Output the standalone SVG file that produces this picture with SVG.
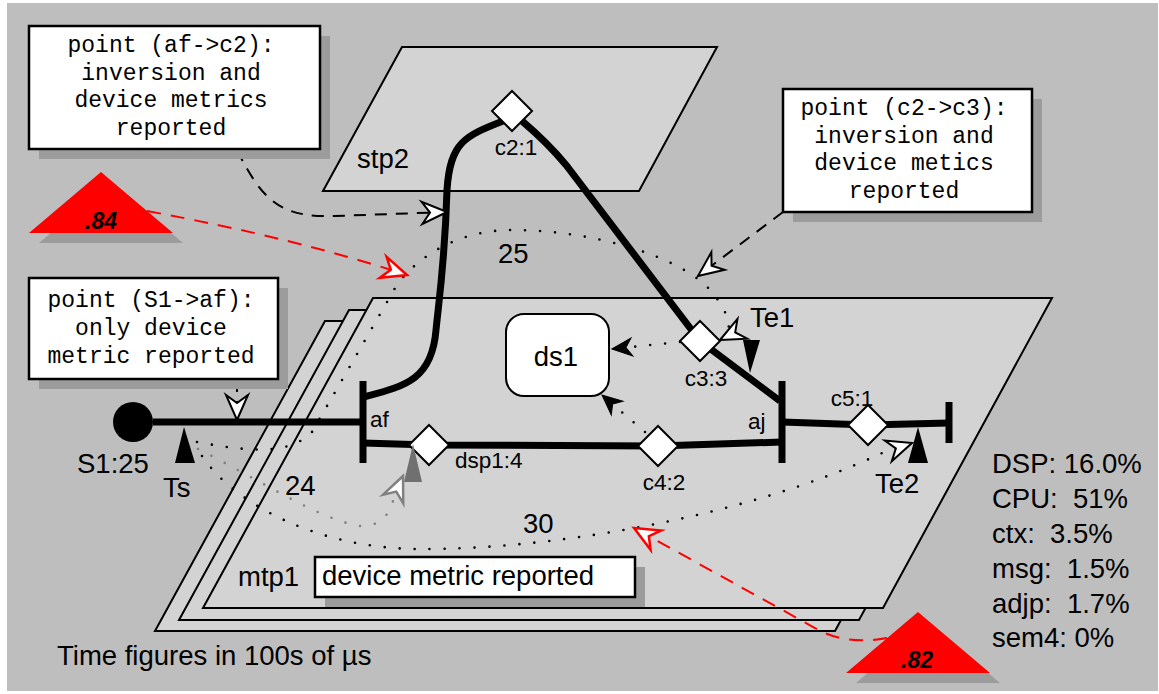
<svg xmlns="http://www.w3.org/2000/svg" width="1159" height="694" viewBox="0 0 1159 694">
<style>
.plane{fill:#d3d3d3;stroke:#000;stroke-width:2}
.box{fill:#fff;stroke:#000;stroke-width:2.5}
.shadow{fill:#9c9c9c}
.mono{font-family:"Liberation Mono","Courier New",monospace;font-size:23px;fill:#000;text-anchor:middle}
.lbl{font-family:"Liberation Sans",Arial,sans-serif;font-size:27.5px;fill:#000}
.sm{font-family:"Liberation Sans",Arial,sans-serif;font-size:22.5px;fill:#000}
.num{font-family:"Liberation Sans",Arial,sans-serif;font-size:23px;font-weight:bold;font-style:italic;fill:#000;text-anchor:middle}
.thick{fill:none;stroke:#000;stroke-width:7}
.bar{stroke:#000;stroke-width:7}
.dia{fill:#fff;stroke:#000;stroke-width:2}
.dot{fill:none;stroke:#000;stroke-width:2.6;stroke-linecap:round;stroke-dasharray:0 15}
.gdot{fill:none;stroke:#808080;stroke-width:2.6;stroke-linecap:round;stroke-dasharray:0 15}
.dash{fill:none;stroke:#000;stroke-width:2;stroke-dasharray:12 9}
.rdash{fill:none;stroke:#f00;stroke-width:2;stroke-dasharray:14 10}
</style>
<defs>
<marker id="aw" markerUnits="userSpaceOnUse" markerWidth="30" markerHeight="30" refX="0" refY="0" orient="auto" overflow="visible"><path d="M0,0 L-25,-11 L-17,0 L-25,11 Z" fill="#fff" stroke="#000" stroke-width="2"/></marker>
<marker id="ar" markerUnits="userSpaceOnUse" markerWidth="30" markerHeight="30" refX="0" refY="0" orient="auto" overflow="visible"><path d="M0,0 L-25,-11 L-17,0 L-25,11 Z" fill="#fff" stroke="#f00" stroke-width="2.5"/></marker>
<marker id="ag" markerUnits="userSpaceOnUse" markerWidth="30" markerHeight="30" refX="0" refY="0" orient="auto" overflow="visible"><path d="M0,0 L-25,-11 L-17,0 L-25,11 Z" fill="#fff" stroke="#808080" stroke-width="2.5"/></marker>
<marker id="ab" markerUnits="userSpaceOnUse" markerWidth="30" markerHeight="30" refX="0" refY="0" orient="auto" overflow="visible"><path d="M0,0 L-20,-9 L-14,0 L-20,9 Z" fill="#000" stroke="#000" stroke-width="1"/></marker>
</defs>
<rect x="7" y="3" width="1151" height="688" fill="#bebebe"/>

<g id="mtp1">
<polygon class="plane" points="325,321 1004,321 835,631 155,631"/>
<polygon class="plane" points="349,310 1028,310 859,620 179,620"/>
<polygon class="plane" points="373,298 1052,298 883,608 203,608"/>
<text class="lbl" x="238" y="586">mtp1</text>
</g>
<g id="stp2">
<polygon class="plane" points="402,47 717,47 639,191 323,191"/>
<text class="lbl" x="357" y="168">stp2</text>
</g>

<g id="connectors">
<path class="thick" d="M503,121 C465,136 450,142 447,190 C445,260 439,300 436,330 C432,380 405,386 364,397"/>
<path class="thick" d="M522,121 C542,138 552,148 566,165 L700,341 L780,401"/>
<path class="thick" d="M153,422 L363,422"/>
<path class="thick" d="M363,443 L429,445 L658,446 L782,442"/>
<path class="thick" d="M782,422 L868,425 L949,423"/>
<line class="bar" x1="363" y1="381" x2="363" y2="463"/>
<line class="bar" x1="782" y1="381" x2="782" y2="463"/>
<line class="bar" x1="949" y1="402" x2="949" y2="443"/>

<path class="dot" d="M197,442 C250,452 290,455 312,432 L398,283 C425,250 465,230 512,230 C590,230 680,255 712,292 C728,312 736,332 720,340" marker-end="url(#aw)"/>
<path class="dot" d="M202,456 C235,505 320,549 420,549 C540,550 740,520 882,453 L912,443" marker-end="url(#aw)"/>
<path class="gdot" d="M198,449 C260,480 320,520 360,526 C380,527 390,515 394,497 L403,476" marker-end="url(#ag)"/>
<path class="dot" d="M680,342 L612,349" marker-end="url(#ab)"/>
<path class="dot" d="M645,432 L602,395" marker-end="url(#ab)"/>

<path class="dash" d="M237,150 C262,200 280,218 335,216 L447,212" marker-end="url(#aw)"/>
<path class="dash" d="M783,212 L698,276" marker-end="url(#aw)"/>
<path class="dash" d="M237,380 L237,420" marker-end="url(#aw)"/>
<path class="rdash" d="M147,211 C250,230 330,250 407,275" marker-end="url(#ar)"/>
<path class="rdash" d="M887,638 C860,643 835,640 815,628 L634,528" marker-end="url(#ar)"/>
</g>

<g id="S1">
<circle cx="133" cy="422" r="20" fill="#000"/>
<text class="lbl" x="77" y="473">S1:25</text>
</g>
<g id="Ts">
<polygon points="184,427 195,463 175,463" fill="#000"/>
<text class="lbl" x="163" y="497">Ts</text>
</g>
<g id="af"><text class="sm" x="370" y="427">af</text></g>
<g id="aj"><text class="sm" x="748" y="429">aj</text></g>
<g id="c2">
<polygon class="dia" points="512,91 532,111 512,131 492,111"/>
<text class="sm" x="516" y="155" text-anchor="middle">c2:1</text>
</g>
<g id="c3">
<polygon class="dia" points="700,321 720,341 700,361 680,341"/>
<text class="sm" x="706" y="386" text-anchor="middle">c3:3</text>
</g>
<g id="dsp1">
<polygon class="dia" points="429,425 449,445 429,465 409,445"/>
<text class="sm" x="455" y="468">dsp1:4</text>
</g>
<g id="c4">
<polygon class="dia" points="658,426 678,446 658,466 638,446"/>
<text class="sm" x="664" y="490" text-anchor="middle">c4:2</text>
</g>
<g id="c5">
<polygon class="dia" points="868,405 888,425 868,445 848,425"/>
<text class="sm" x="852" y="406" text-anchor="middle">c5:1</text>
</g>
<g id="ds1">
<rect x="506" y="314" width="103" height="82" rx="18" fill="#fff" stroke="#000" stroke-width="2"/>
<text class="lbl" x="556" y="366" text-anchor="middle">ds1</text>
</g>
<g id="dsptri"><polygon points="413,444 422,482 404,482" fill="#707070"/></g>
<g id="Te1">
<polygon points="743,340 760,340 750,373" fill="#000"/>
<text class="lbl" x="750" y="327">Te1</text>
</g>
<g id="Te2">
<polygon points="918,427 928,463 908,463" fill="#000"/>
<text class="lbl" x="875" y="493">Te2</text>
</g>
<g id="labels">
<text class="lbl" x="498" y="263">25</text>
<text class="lbl" x="285" y="495">24</text>
<text class="lbl" x="523" y="533">30</text>
</g>

<g id="note-af-c2">
<rect class="shadow" x="39" y="36" width="291" height="123"/>
<rect class="box" x="29" y="26" width="291" height="123"/>
<text class="mono" x="171" y="52">point (af-&gt;c2):</text>
<text class="mono" x="171" y="80">inversion and</text>
<text class="mono" x="171" y="107">device metrics</text>
<text class="mono" x="171" y="135">reported</text>
</g>
<g id="note-c2-c3">
<rect class="shadow" x="793" y="99" width="249" height="123"/>
<rect class="box" x="783" y="89" width="249" height="123"/>
<text class="mono" x="904" y="115">point (c2-&gt;c3):</text>
<text class="mono" x="904" y="143">inversion and</text>
<text class="mono" x="904" y="170">device metics</text>
<text class="mono" x="904" y="198">reported</text>
</g>
<g id="note-s1-af">
<rect class="shadow" x="39" y="288" width="249" height="101"/>
<rect class="box" x="29" y="278" width="249" height="101"/>
<text class="mono" x="151" y="307">point (S1-&gt;af):</text>
<text class="mono" x="151" y="335">only device</text>
<text class="mono" x="151" y="363">metric reported</text>
</g>
<g id="note-device">
<rect class="shadow" x="325" y="567" width="320" height="40"/>
<rect class="box" x="315" y="557" width="320" height="40"/>
<text class="lbl" x="322" y="585">device metric reported</text>
</g>

<g id="tri84">
<polygon class="shadow" points="111,182 183,243 39,243"/>
<polygon points="101,172 173,233 29,233" fill="#f00"/>
<text class="num" x="101" y="229">.84</text>
</g>
<g id="tri82">
<polygon class="shadow" points="928,622 1000,683 856,683"/>
<polygon points="918,612 990,673 846,673" fill="#f00"/>
<text class="num" x="917" y="668">.82</text>
</g>

<g id="stats">
<text class="lbl" x="992" y="473">DSP: 16.0%</text>
<text class="lbl" x="992" y="508">CPU:&#160; 51%</text>
<text class="lbl" x="992" y="543">ctx:&#160; 3.5%</text>
<text class="lbl" x="992" y="578">msg:&#160; 1.5%</text>
<text class="lbl" x="992" y="613">adjp:&#160; 1.7%</text>
<text class="lbl" x="992" y="647">sem4: 0%</text>
</g>
<g id="caption"><text class="lbl" x="57" y="665">Time figures in 100s of µs</text></g>
</svg>
